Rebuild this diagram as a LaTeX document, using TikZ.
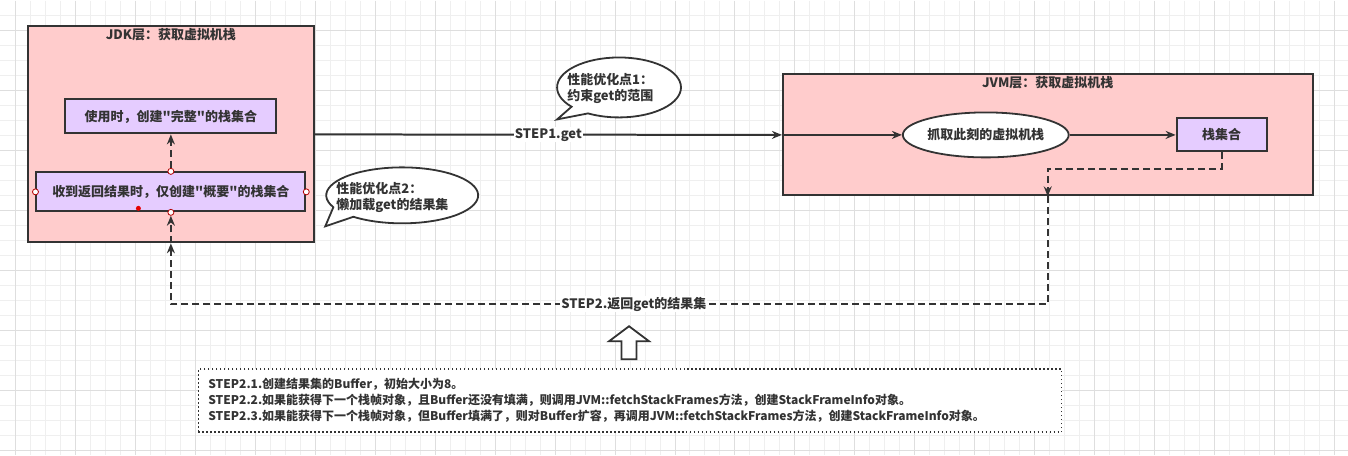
\documentclass[tikz,border=0pt]{standalone}
\usepackage{fontspec}
\setmainfont{Noto Sans CJK SC}[Ligatures=TeXOff]
\usepackage{xcolor}
\usetikzlibrary{arrows.meta,shapes.geometric}

\definecolor{ink}{HTML}{333333}
\definecolor{layerpink}{HTML}{FFCCCC}
\definecolor{stackpurple}{HTML}{E5CCFF}
\definecolor{gridlight}{HTML}{EFEFEF}
\definecolor{griddark}{HTML}{DEDEDE}
\definecolor{portred}{HTML}{B20000}

\tikzset{
  layer/.style={draw=ink, line width=2pt, fill=layerpink},
  layertitle/.style={font=\fontsize{13}{16}\selectfont\bfseries},
  stackbox/.style={draw=ink, line width=2pt, fill=stackpurple, font=\fontsize{13}{16}\selectfont\bfseries},
  grabbox/.style={ellipse, draw=ink, line width=1.8pt, fill=white, font=\fontsize{13}{16}\selectfont\bfseries},
  flow/.style={draw=ink, line width=2pt, -{Stealth[length=10pt,width=8pt]}},
  back/.style={flow, dash pattern=on 7pt off 4pt},
  edgelabel/.style={fill=white, inner sep=1pt, font=\fontsize{13}{16}\selectfont\bfseries},
  port/.style={circle, draw=portred, fill=white, line width=0.8pt, minimum size=6pt},
  bubble/.style={draw=ink, line width=1.8pt, fill=white},
  tiptext/.style={align=left, font=\fontsize{13}{16}\selectfont\bfseries},
  notebox/.style={draw=ink, line width=1.5pt, dash pattern=on 1.5pt off 2.5pt, fill=white,
    align=left, text width=844pt, inner xsep=10pt, font=\fontsize{12}{16}\selectfont\bfseries},
  gridthin/.style={draw=gridlight, line width=1pt},
  gridthick/.style={draw=griddark, line width=1pt}
}

\begin{document}
\begin{tikzpicture}[x=1pt, y=-1pt, every node/.style={text=ink, inner sep=0pt}]
    % grid paper
    \fill[white] (0,0) rectangle (1348,455);
    \foreach \gx in {15,30,...,1335} \draw[gridthin] (\gx,0) -- (\gx,455);
    \foreach \gy in {15,30,...,450} \draw[gridthin] (0,\gy) -- (1348,\gy);
    \foreach \gx in {15,75,...,1335} \draw[gridthick] (\gx,0) -- (\gx,455);
    \foreach \gy in {30,90,...,450} \draw[gridthick] (0,\gy) -- (1348,\gy);
    \useasboundingbox (0,0) rectangle (1348,455);

    % JDK layer
    \node[layer, minimum width=286pt, minimum height=216pt] (jdk) at (170.5,134) {};
    \node[layertitle] (jdktitle) at (170.5,34) {JDK层：获取虚拟机栈};
    \node[stackbox, minimum width=211pt, minimum height=34pt] (full) at (170.5,116) {使用时，创建"完整"的栈集合};
    \node[stackbox, minimum width=269pt, minimum height=39pt] (brief) at (170.5,191.5) {收到返回结果时，仅创建"概要"的栈集合};
    \foreach \side in {north,south,east,west}
        \node[port] (port-\side) at (brief.\side) {};
    \node[circle, fill=red!90!black, minimum size=5pt] (pick) at (138,208) {};

    % JVM layer
    \node[layer, minimum width=530pt, minimum height=121pt] (jvm) at (1048,134.5) {};
    \node[layertitle] (jvmtitle) at (1048,82) {JVM层：获取虚拟机栈};
    \node[grabbox, minimum width=166pt, minimum height=45pt] (grab) at (986,134.5) {抓取此刻的虚拟机栈};
    \node[stackbox, minimum width=90pt, minimum height=33pt] (frames) at (1222,134.5) {栈集合};

    % Step 1
    \draw[flow] (jdk.east) -- node[edgelabel] {STEP1.get} (jvm.west);
    \draw[flow] (jvm.west) -- (grab.west);
    \draw[flow] (grab.east) -- (frames.west);

    % Step 2
    \draw[back] (frames.south) -- ++(0,16.5) -| (jvm.south);
    \draw[back] (jvm.south) -- ++(0,108) -| node[pos=0.236, edgelabel] {STEP2.返回get的结果集} (jdk.south);
    \draw[back] (jdk.south) -- (port-south);
    \draw[back] (port-north) -- (full.south);

    % Callouts
    \draw[bubble] (619,87) ++(140:62 and 30) arc[start angle=140, end angle=480, x radius=62, y radius=30] -- (557,119) -- cycle;
    \node[tiptext, anchor=west] (tip1) at (567,88) {性能优化点1：\\约束get的范围};
    \draw[bubble] (402,195) ++(155:76 and 28) arc[start angle=155, end angle=490, x radius=76, y radius=28] -- (325,226) -- cycle;
    \node[tiptext, anchor=west] (tip2) at (336,197) {性能优化点2：\\懒加载get的结果集};

    % Details of step 2
    \draw[draw=ink, line width=1.8pt, fill=white] (629,326) -- (649,341) -- (636.5,341) -- (636.5,359)
        -- (621.5,359) -- (621.5,341) -- (609,341) -- cycle;
    \node[notebox, minimum height=63pt] (notes) at (630,400.5) {STEP2.1.创建结果集的Buffer，初始大小为8。\\
        STEP2.2.如果能获得下一个栈帧对象，且Buffer还没有填满，则调用JVM::fetchStackFrames方法，创建StackFrameInfo对象。\\
        STEP2.3.如果能获得下一个栈帧对象，但Buffer填满了，则对Buffer扩容，再调用JVM::fetchStackFrames方法，创建StackFrameInfo对象。};
\end{tikzpicture}
\end{document}
